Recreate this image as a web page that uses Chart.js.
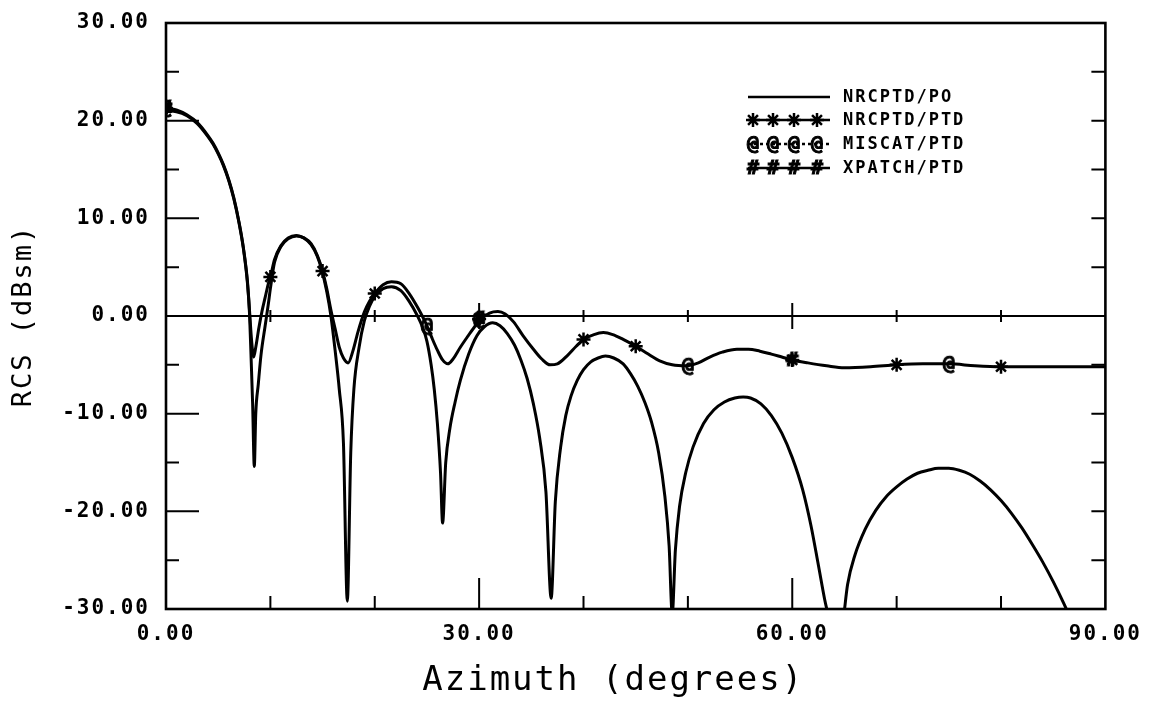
<!DOCTYPE html>
<html lang="en">
<head>
<meta charset="UTF-8">
<title>RCS vs Azimuth</title>
<script src="https://cdn.jsdelivr.net/npm/chart.js"></script>
<style>
  body { margin: 0; background: #fff; }
  #wrap { width: 1155px; height: 703px; }
</style>
</head>
<body>
<div id="wrap"><canvas id="rcs" width="1155" height="703"></canvas></div>
<script>
// NRCPTD/PO curve (deg, dBsm)
const poAz = [0, 1, 2, 3, 4, 4.5, 5, 5.5, 6, 6.5, 7.0, 7.4, 7.8, 8.0, 8.15, 8.3, 8.46, 8.6, 8.84, 9.1, 9.5, 9.8,
  10.0, 10.4, 11.0, 11.7, 12.5, 13.2, 13.9, 14.5, 14.9, 15.4, 15.8, 16.2, 16.6, 17.0, 17.37, 17.7, 18.0, 18.5, 19.0, 19.5,
  20.0, 20.8, 21.6, 22.5, 23.3, 24.1, 24.6, 25.0, 25.4, 25.7, 26.0, 26.3, 26.5, 26.8, 27.2, 27.7, 28.2, 29.0, 29.8,
  30.5, 31.3, 32.0, 32.7, 33.4, 34.0, 34.6, 35.2, 35.8, 36.4, 36.9, 37.3, 37.8, 38.3, 38.8, 39.4,
  40.0, 40.7, 41.4, 42.1, 42.9, 43.8, 44.5, 45.2, 45.9, 46.5, 47.2, 47.8, 48.2, 48.5, 48.8, 49.2, 49.8,
  50.5, 51.5, 52.5, 53.5, 54.5, 55.3, 56.0, 57.0, 58.0, 59.0,
  60.0, 61.0, 61.8, 62.5, 63.1, 63.5, 64.2, 64.9, 65.3, 66.0, 67.0, 68.0, 69.0,
  70.0, 71.0, 72.0, 73.0, 74.0, 75.0, 76.0, 77.0, 78.0, 79.0,
  80.0, 81.0, 82.0, 83.0, 84.0, 85.0, 86.0, 86.5, 87.0];
const poRcs = [21.0, 20.9, 20.5, 19.7, 18.4, 17.6, 16.6, 15.4, 13.9, 12.0, 9.5, 7.0, 3.4, 0.3, -4.2, -9.0, -15.4, -10.0, -7.0, -4.0, -1.0, 1.2,
  2.8, 5.5, 7.1, 7.9, 8.2, 8.0, 7.3, 6.1, 4.8, 2.5, 0.0, -3.5, -7.5, -13.0, -29.2, -14.0, -7.5, -3.2, -0.5, 1.0,
  2.0, 2.8, 3.0, 2.6, 1.5, 0.0, -1.2, -2.6, -5.0, -7.5, -11.0, -16.0, -21.2, -15.0, -11.5, -8.8, -6.6, -3.9, -2.0,
  -1.1, -0.7, -1.0, -1.8, -3.0, -4.5, -6.4, -9.0, -12.5, -18.0, -28.9, -19.0, -13.5, -10.2, -8.2, -6.6,
  -5.5, -4.7, -4.3, -4.1, -4.3, -4.9, -5.9, -7.2, -8.9, -10.8, -14.0, -18.5, -23.5, -30.5, -24.0, -19.5, -16.0,
  -13.4, -11.0, -9.6, -8.8, -8.4, -8.3, -8.4, -9.0, -10.2, -12.0,
  -14.5, -17.8, -21.5, -25.5, -29.0, -31.0, -36.0, -31.0, -27.5, -24.5, -21.8, -19.9, -18.5,
  -17.5, -16.7, -16.1, -15.8, -15.6, -15.6, -15.8, -16.2, -16.9, -17.8,
  -18.9, -20.2, -21.7, -23.4, -25.2, -27.2, -29.4, -30.6, -32.0];

// NRCPTD/PTD curve
const ptdAz = [0, 1, 2, 3, 4, 4.5, 5, 5.5, 6, 6.5, 7.0, 7.4, 7.8, 8.0, 8.2, 8.4, 8.6, 8.9, 9.2, 9.5, 9.8,
  10.0, 10.4, 11.0, 11.7, 12.5, 13.2, 13.9, 14.5, 15.0, 15.4, 15.8, 16.2, 16.6, 17.0, 17.45, 17.9, 18.4, 19.0, 19.5,
  20.0, 20.8, 21.6, 22.5, 23.3, 24.1, 24.6, 25.0, 25.5, 26.0, 26.5, 27.0, 27.5, 28.2, 28.9, 29.5,
  30.2, 31.0, 31.8, 32.5, 33.3, 34.2, 35.2, 36.0, 36.8, 37.5, 38.5, 39.3,
  40.0, 41.0, 41.9, 42.8, 43.8, 45.0, 46.2, 47.3, 48.5, 49.9,
  51.0, 52.1, 53.3, 54.7, 55.8, 56.9, 58.0, 59.0, 60.0, 61.5, 63.3, 65.0, 67.5,
  70.0, 72.5, 75.0, 77.5, 80.0, 85.0, 90.0];
const ptdRcs = [21.3, 21.1, 20.6, 19.8, 18.5, 17.7, 16.7, 15.5, 14.0, 12.1, 9.6, 7.1, 3.6, 0.6, -2.5, -4.2, -3.2, -1.2, 0.5, 1.9, 3.3,
  4.0, 5.8, 7.2, 8.0, 8.25, 8.0, 7.4, 6.2, 4.6, 2.8, 0.6, -1.3, -3.2, -4.3, -4.8, -3.6, -1.6, 0.4, 1.5,
  2.3, 3.2, 3.5, 3.3, 2.3, 0.9, -0.1, -1.0, -2.3, -3.5, -4.5, -4.9, -4.4, -3.2, -2.1, -1.2,
  -0.3, 0.3, 0.45, 0.2, -0.6, -2.0, -3.4, -4.4, -5.0, -4.9, -4.0, -3.1,
  -2.4, -1.9, -1.7, -1.9, -2.4, -3.1, -3.9, -4.6, -5.0, -5.1,
  -4.8, -4.2, -3.7, -3.4, -3.4, -3.6, -3.9, -4.2, -4.5, -4.8, -5.1, -5.3, -5.2,
  -5.0, -4.9, -4.9, -5.1, -5.2, -5.2, -5.2];

// plotted symbols
const ptdMarkAz = [0, 10, 15, 20, 30, 40, 45, 60, 70, 80];
const ptdMarkRcs = [21.3, 4.0, 4.6, 2.3, -0.3, -2.4, -3.1, -4.5, -5.0, -5.2];
const miscatAz = [0, 25, 30, 50, 75];
const miscatRcs = [21.3, -1.0, -0.3, -5.1, -4.9];
const xpatchAz = [0, 30, 60];
const xpatchRcs = [21.3, -0.3, -4.5];

const legendLabels = ['NRCPTD/PO', 'NRCPTD/PTD', 'MISCAT/PTD', 'XPATCH/PTD'];
const xTicks = [0, 30, 60, 90];
const yTicks = [-30, -20, -10, 0, 10, 20, 30];

const pts = (xs, ys) => xs.map((x, i) => ({ x: x, y: ys[i] }));
const mono = '"DejaVu Sans Mono", monospace';

function glyph(ch, size) {
    const c = document.createElement('canvas');
    c.width = c.height = size;
    const g = c.getContext('2d');
    g.font = 'bold ' + size + 'px ' + mono;
    g.textAlign = 'center';
    g.textBaseline = 'middle';
    g.fillStyle = '#000';
    g.strokeStyle = '#000';
    g.lineWidth = 1;
    g.fillText(ch, size / 2, size / 2 + 1);
    g.strokeText(ch, size / 2, size / 2 + 1);
    return c;
}
const atMark = glyph('@', 20);
const hashMark = glyph('#', 20);

function drawMark(ctx, style, x, y) {
    if (style === 'star') {
        ctx.beginPath();
        for (let k = 0; k < 4; k++) {
            const a = k * Math.PI / 4;
            ctx.moveTo(x - 7 * Math.cos(a), y - 7 * Math.sin(a));
            ctx.lineTo(x + 7 * Math.cos(a), y + 7 * Math.sin(a));
        }
        ctx.stroke();
    } else {
        ctx.drawImage(style, x - style.width / 2, y - style.height / 2);
    }
}

const spacing = {
    id: 'spacing',
    beforeUpdate(c) { c.ctx.letterSpacing = '2px'; },
    beforeDraw(c) { c.ctx.letterSpacing = '2px'; }
};

// frame, inward ticks and zero line
const frame = {
    id: 'frame',
    beforeDatasetsDraw(chart) {
        const { ctx, chartArea: a, scales: { x, y } } = chart;
        const z = y.getPixelForValue(0);
        ctx.save();
        ctx.strokeStyle = '#000';
        ctx.lineWidth = 2.6;
        ctx.strokeRect(a.left, a.top, a.right - a.left, a.bottom - a.top);
        ctx.lineWidth = 2;
        ctx.beginPath();
        for (let v = -25; v < 30; v += 5) {
            const py = y.getPixelForValue(v);
            ctx.moveTo(a.left, py);
            ctx.lineTo(a.left + (v % 10 === 0 ? 33 : 13), py);
            ctx.moveTo(a.right, py);
            ctx.lineTo(a.right - 14, py);
        }
        for (let v = 10; v < 90; v += 10) {
            const px = x.getPixelForValue(v);
            const major = v % 30 === 0;
            ctx.moveTo(px, a.bottom);
            ctx.lineTo(px, a.bottom - (major ? 31 : 13));
            ctx.moveTo(px, z - (major ? 13 : 6));
            ctx.lineTo(px, z + (major ? 13 : 6));
        }
        ctx.moveTo(a.left, z);
        ctx.lineTo(a.right, z);
        ctx.stroke();
        ctx.restore();
    }
};

const legendBox = {
    id: 'legendBox',
    afterDatasetsDraw(chart) {
        const ctx = chart.ctx;
        const rows = [97, 120, 144, 168];
        const marks = [null, 'star', atMark, hashMark];
        const dashes = [[], [], [3, 3], []];
        ctx.save();
        ctx.strokeStyle = '#000';
        ctx.fillStyle = '#000';
        legendLabels.forEach((label, i) => {
            const y = rows[i];
            ctx.lineWidth = 2.4;
            ctx.setLineDash(dashes[i]);
            ctx.beginPath();
            ctx.moveTo(748, y);
            ctx.lineTo(830, y);
            ctx.stroke();
            ctx.setLineDash([]);
            ctx.lineWidth = 2.5;
            if (marks[i]) [753, 773, 794, 817].forEach(px => drawMark(ctx, marks[i], px, y));
            ctx.font = 'bold 17px ' + mono;
            ctx.letterSpacing = '2px';
            ctx.textAlign = 'left';
            ctx.textBaseline = 'middle';
            ctx.fillText(label, 843, y + 1);
        });
        ctx.restore();
    }
};

const tickFont = { family: mono, size: 21, weight: 'bold' };

new Chart(document.getElementById('rcs'), {
    type: 'line',
    data: {
        datasets: [
            { data: pts(poAz, poRcs), borderColor: '#000', borderWidth: 3, pointRadius: 0, cubicInterpolationMode: 'monotone' },
            { data: pts(ptdAz, ptdRcs), borderColor: '#000', borderWidth: 3, pointRadius: 0, cubicInterpolationMode: 'monotone' },
            { data: pts(ptdMarkAz, ptdMarkRcs), showLine: false, pointStyle: 'star', pointRadius: 7, pointBorderWidth: 2.5, pointBorderColor: '#000' },
            { data: pts(miscatAz, miscatRcs), showLine: false, pointStyle: atMark, pointRadius: 6 },
            { data: pts(xpatchAz, xpatchRcs), showLine: false, pointStyle: hashMark, pointRadius: 6 }
        ]
    },
    options: {
        responsive: false,
        animation: false,
        layout: { padding: { top: 23, right: 48, left: 0, bottom: 0 } },
        plugins: { legend: { display: false }, tooltip: { enabled: false } },
        scales: {
            x: {
                type: 'linear', min: 0, max: 90,
                afterBuildTicks: s => { s.ticks = xTicks.map(v => ({ value: v })); },
                afterFit: s => { s.height = 94; },
                grid: { display: false, drawTicks: false },
                border: { display: false },
                ticks: { font: tickFont, color: '#000', padding: 13, maxRotation: 0, callback: v => v.toFixed(2) },
                title: { display: true, text: 'Azimuth (degrees)  ', color: '#000', font: { family: mono, size: 34 }, padding: { top: 0, bottom: 1 } }
            },
            y: {
                min: -30, max: 30,
                afterBuildTicks: s => { s.ticks = yTicks.map(v => ({ value: v })); },
                afterFit: s => { s.width = 166; s.paddingTop = 0; s.paddingBottom = 0; },
                grid: { display: false, drawTicks: false },
                border: { display: false },
                ticks: { font: tickFont, color: '#000', padding: 16, callback: v => v.toFixed(2) },
                title: { display: true, text: 'RCS (dBsm)', color: '#000', font: { family: mono, size: 27 }, padding: { top: 8, bottom: 0 } }
            }
        }
    },
    plugins: [spacing, frame, legendBox]
});
</script>
</body>
</html>
